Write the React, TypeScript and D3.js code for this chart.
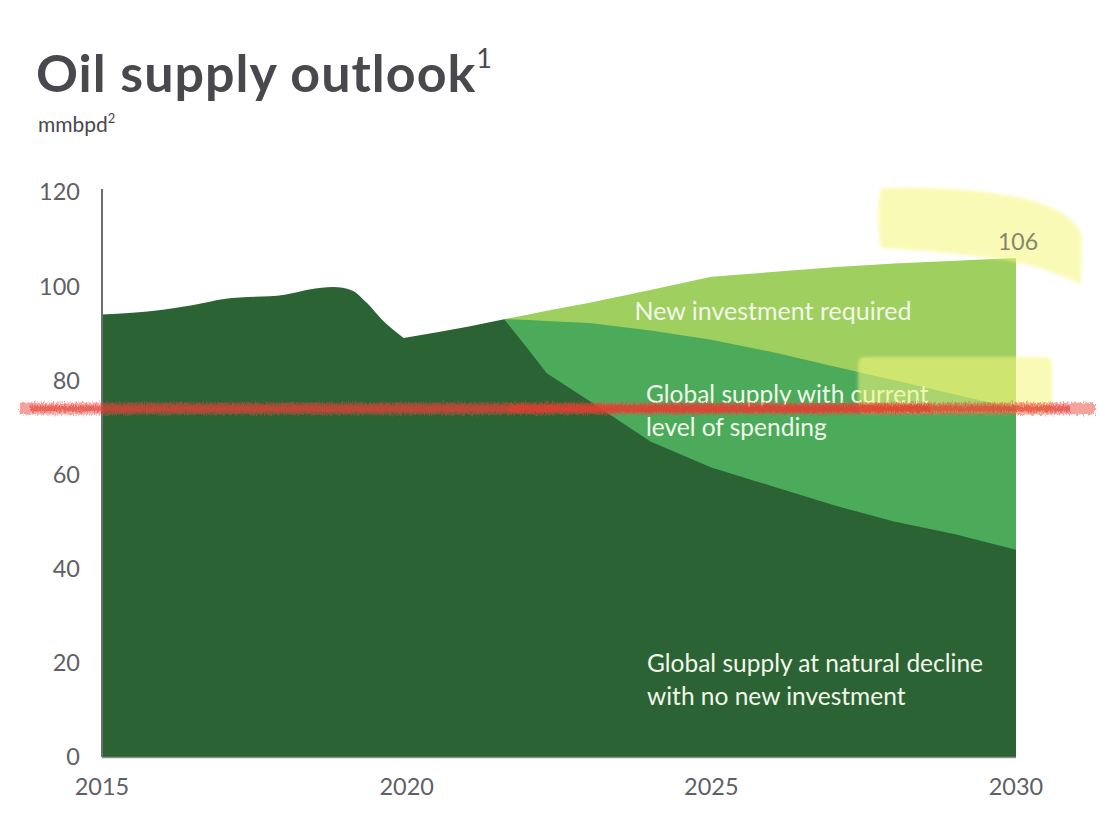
import React from "react";
import * as d3 from "d3";

// historical total supply (mmbpd), fractional years
const historyYears = [2015, 2016, 2016.5, 2017, 2018, 2018.4, 2018.8, 2019.1, 2019.35, 2019.6, 2019.95];
const historyValues = [94, 95, 96, 97.3, 98.2, 99.3, 99.8, 99.1, 96.4, 92.8, 89];

// rebound after the dip, then the outlook
const reboundYears = [2019.95, 2020.5, 2021, 2021.6];
const reboundValues = [89, 90.2, 91.4, 93];

const outlookYears = [2021.6, 2022, 2022.3, 2023, 2024, 2025, 2026, 2027, 2028, 2029, 2030];
const naturalDecline = [93, 86.5, 81.5, 75.6, 67, 61.5, 57.5, 53.5, 50, 47.3, 44];
const currentSpending = [93, 92.8, 92.6, 92.2, 90.6, 88.6, 86, 83, 80, 77, 74];
const newInvestment = [93, 94, 94.8, 96.5, 99.2, 102, 103, 104, 104.8, 105.4, 106];

const xTicks = [2015, 2020, 2025, 2030];
const yTicks = [0, 20, 40, 60, 80, 100, 120];

const W = 1115;
const H = 828;
const FONT = "Lato, 'Open Sans', sans-serif";

type Pt = { year: number; value: number };

export default function App() {
  const x = d3.scaleLinear().domain([2015, 2030]).range([102, 1016]);
  const y = d3.scaleLinear().domain([0, 120]).range([757, 192]);

  const area = d3
    .area<Pt>()
    .x((d) => x(d.year))
    .y0(y(0))
    .y1((d) => y(d.value));

  const toPts = (yrs: number[], vals: number[]) => yrs.map((yr, i) => ({ year: yr, value: vals[i] }));

  // dark area: smooth history, then straight segments through the dip and the decline
  const smoothTop = d3
    .line<Pt>()
    .x((d) => x(d.year))
    .y((d) => y(d.value))
    .curve(d3.curveMonotoneX)(toPts(historyYears, historyValues)) ?? "";
  const rest = [...toPts(reboundYears, reboundValues).slice(1), ...toPts(outlookYears, naturalDecline).slice(1)];
  const darkPath =
    smoothTop +
    rest.map((d) => `L${x(d.year)},${y(d.value)}`).join("") +
    `L${x(2030)},${y(0)}L${x(2015)},${y(0)}Z`;

  const medium = toPts(outlookYears, currentSpending);
  const light = toPts(outlookYears, newInvestment);

  const redY = y(74);
  const labelColor = "#f2f8ea";

  return (
    <svg width={W} height={H} style={{ position: "absolute", left: 0, top: 0, background: "#fff" }}>
      <defs>
        <filter id="rough" x="-5%" y="-200%" width="110%" height="500%">
          <feTurbulence type="fractalNoise" baseFrequency="0.9 0.35" numOctaves={2} seed={4} />
          <feDisplacementMap in="SourceGraphic" scale={7} />
        </filter>
        <filter id="soft">
          <feGaussianBlur stdDeviation={1.5} />
        </filter>
      </defs>

      {/* title */}
      <text x={36} y={92} fontFamily={FONT} fontWeight={700} fontSize={52} letterSpacing={1} fill="#48484e">
        Oil supply outlook
        <tspan fontSize={27} fontWeight={400} letterSpacing={0} dy={-24}>1</tspan>
      </text>
      <text x={38} y={132} fontFamily={FONT} fontSize={21} fill="#48484e">
        mmbpd
        <tspan fontSize={13} dy={-9}>2</tspan>
      </text>

      {/* areas */}
      <path d={area(light) ?? ""} fill="#9fcf5f" />
      <path d={area(medium) ?? ""} fill="#4cab5b" />
      <path d={darkPath} fill="#2b6335" />

      {/* axes */}
      <line x1={x(2015)} x2={x(2015)} y1={189} y2={y(0)} stroke="#6d6d72" strokeWidth={2} />
      <line x1={x(2015)} x2={x(2030)} y1={y(0) + 0.5} y2={y(0) + 0.5} stroke="#8a8f8a" strokeWidth={1.5} />

      {yTicks.map((t) => (
        <text key={t} x={80} y={y(t)} dy="0.36em" textAnchor="end" fontFamily={FONT} fontSize={23.5} fill="#5f5f66">
          {t}
        </text>
      ))}
      {xTicks.map((t) => (
        <text key={t} x={x(t)} y={795} textAnchor="middle" fontFamily={FONT} fontSize={23.5} fill="#5f5f66">
          {t}
        </text>
      ))}

      {/* labels */}
      <text x={773} y={320} textAnchor="middle" fontFamily={FONT} fontSize={25} fill={labelColor}>
        New investment required
      </text>
      <text x={646} y={403} fontFamily={FONT} fontSize={24.5} fill={labelColor}>
        Global supply with current
      </text>
      <text x={646} y={436} fontFamily={FONT} fontSize={24.5} fill={labelColor}>
        level of spending
      </text>
      <text x={647} y={672} fontFamily={FONT} fontSize={24.5} fill={labelColor}>
        Global supply at natural decline
      </text>
      <text x={647} y={705} fontFamily={FONT} fontSize={24.5} fill={labelColor}>
        with no new investment
      </text>

      {/* highlighter marks */}
      <g filter="url(#soft)" fill="#f6f77e" opacity={0.55}>
        <path d="M881,188 C930,186 990,190 1030,200 C1060,208 1078,222 1082,235 L1081,284 C1060,275 1035,265 1006,260 C960,254 920,250 881,248 C877,230 877,205 881,188 Z" />
        <rect x={858} y={357} width={194} height={56} rx={6} />
      </g>

      <text x={1018} y={250} textAnchor="middle" fontFamily={FONT} fontSize={23} fill="#86866a">
        {newInvestment[newInvestment.length - 1]}
      </text>

      {/* red scribble */}
      <g filter="url(#rough)">
        <rect x={20} y={redY - 6} width={1075} height={12} fill="#e8473d" opacity={0.5} />
        <rect x={30} y={redY - 3} width={1040} height={6} fill="#e23a30" opacity={0.6} />
        <rect x={510} y={redY - 4} width={420} height={8} fill="#e83c30" opacity={0.55} />
      </g>
    </svg>
  );
}
